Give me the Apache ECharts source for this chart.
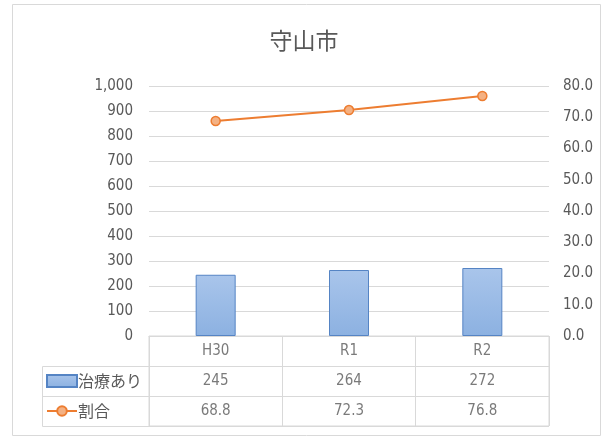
<!DOCTYPE html>
<html>
<head>
<meta charset="utf-8">
<script src="https://cdn.jsdelivr.net/npm/echarts@6/dist/echarts.min.js"></script>
<style>
  html, body { margin: 0; padding: 0; background: #fff; }
  #chart { width: 608px; height: 439px; }
</style>
</head>
<body>
<div id="chart"></div>
<script>
// 年度ごとの値
var years = ['H30', 'R1', 'R2'];
var treated = [245, 264, 272];
var ratio = [68.8, 72.3, 76.8];
var seriesNames = ['治療あり', '割合'];

var grey = '#595959';
var lineGrey = '#d9d9d9';
var numFont = "'Liberation Sans Narrow', 'DejaVu Sans Condensed', sans-serif";
var jpFont = "'Noto Sans CJK JP', sans-serif";

// データ表のセル（3行）
var cells = [];
years.forEach(function (y, i) {
  cells.push({value: [i, 2.5, y]});
  cells.push({value: [i, 1.5, String(treated[i])]});
  cells.push({value: [i, 0.5, ratio[i].toFixed(1)]});
});

var myChart = echarts.init(document.getElementById('chart'));
myChart.setOption({
  animation: false,
  title: {
    text: '守山市',
    left: 'center',
    top: 24,
    textStyle: {color: grey, fontSize: 23, fontWeight: 'normal', fontFamily: jpFont}
  },
  legend: {
    orient: 'vertical',
    left: 46,
    top: 373,
    padding: 0,
    itemWidth: 30,
    itemHeight: 12,
    itemGap: 14,
    data: [{name: seriesNames[0], icon: 'rect'}, {name: seriesNames[1]}],
    textStyle: {color: grey, fontSize: 16, fontFamily: jpFont, padding: [0, 0, 0, -4]}
  },
  graphic: [
    {type: 'rect', shape: {x: 12.5, y: 4.5, width: 588, height: 431}, style: {fill: 'none', stroke: lineGrey}},
    {type: 'polyline', shape: {points: [[149, 366.5], [42.5, 366.5], [42.5, 426.5], [149, 426.5]]}, style: {fill: 'none', stroke: lineGrey}},
    {type: 'line', shape: {x1: 42.5, y1: 396.5, x2: 149, y2: 396.5}, style: {stroke: lineGrey}}
  ],
  grid: [
    {left: 149, right: 59, top: 86, bottom: 103},
    {left: 149, right: 59, top: 336, height: 90, show: true, borderColor: lineGrey, borderWidth: 1}
  ],
  xAxis: [
    {
      type: 'category', gridIndex: 0, data: years,
      axisLine: {lineStyle: {color: lineGrey}}, axisTick: {show: false}, axisLabel: {show: false}
    },
    {
      type: 'category', gridIndex: 1, data: years,
      axisLine: {show: false}, axisTick: {show: false}, axisLabel: {show: false},
      splitLine: {show: true, lineStyle: {color: lineGrey}}
    }
  ],
  yAxis: [
    {
      type: 'value', gridIndex: 0, min: 0, max: 1000, interval: 100,
      axisLine: {show: false}, axisTick: {show: false},
      axisLabel: {
        color: grey, fontSize: 15, fontFamily: numFont, margin: 16,
        formatter: function (v) { return v.toLocaleString('en-US'); }
      },
      splitLine: {lineStyle: {color: lineGrey}}
    },
    {
      type: 'value', gridIndex: 0, min: 0, max: 80, interval: 10, position: 'right',
      axisLine: {show: false}, axisTick: {show: false},
      axisLabel: {
        color: grey, fontSize: 15, fontFamily: numFont, margin: 14,
        formatter: function (v) { return v.toFixed(1); }
      },
      splitLine: {show: false}
    },
    {
      type: 'value', gridIndex: 1, min: 0, max: 3, interval: 1,
      axisLine: {show: false}, axisTick: {show: false}, axisLabel: {show: false},
      splitLine: {lineStyle: {color: lineGrey}}
    }
  ],
  series: [
    {
      name: seriesNames[0], type: 'bar', xAxisIndex: 0, yAxisIndex: 0,
      data: treated, barWidth: 40,
      itemStyle: {
        color: new echarts.graphic.LinearGradient(0, 0, 0, 1, [
          {offset: 0, color: '#a9c5eb'},
          {offset: 1, color: '#8cb1e1'}
        ]),
        borderColor: '#5584c4', borderWidth: 1
      }
    },
    {
      name: seriesNames[1], type: 'line', xAxisIndex: 0, yAxisIndex: 1,
      data: ratio, symbol: 'circle', symbolSize: 9,
      lineStyle: {color: '#ed7d31', width: 2},
      itemStyle: {color: '#f4b183', borderColor: '#ed7d31', borderWidth: 1.5}
    },
    {
      name: 'table', type: 'scatter', xAxisIndex: 1, yAxisIndex: 2,
      data: cells, symbolSize: 0, silent: true,
      label: {
        show: true, position: 'inside', color: grey, fontSize: 15, fontFamily: numFont,
        formatter: function (p) { return p.value[2]; }
      }
    }
  ]
});
</script>
</body>
</html>
